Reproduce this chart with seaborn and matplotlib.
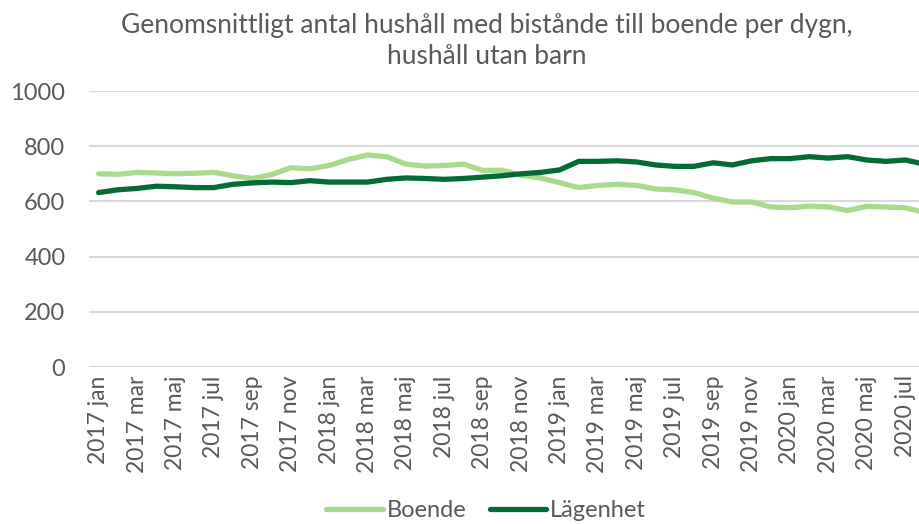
import matplotlib
matplotlib.use("Agg")
import matplotlib.pyplot as plt
from matplotlib.lines import Line2D
import seaborn as sns
import pandas as pd

years = [2017, 2018, 2019, 2020]
month_names = ["jan", "feb", "mar", "apr", "maj", "jun",
               "jul", "aug", "sep", "okt", "nov", "dec"]
months = [f"{y} {m}" for y in years for m in month_names][:44]

boende = [700, 698, 705, 703, 700, 702, 705, 693, 683, 697, 722, 718,
          730, 752, 768, 762, 735, 728, 730, 735, 712, 713, 695, 685,
          668, 650, 658, 662, 658, 645, 642, 632, 612, 598, 598, 580,
          577, 583, 580, 567, 582, 580, 577, 560]
lagenhet = [632, 642, 647, 655, 653, 650, 650, 662, 667, 670, 668, 675,
            670, 670, 670, 680, 685, 683, 680, 683, 688, 693, 700, 705,
            714, 745, 745, 747, 743, 732, 727, 727, 740, 732, 747, 755,
            755, 762, 757, 762, 750, 745, 750, 735]

series_names = ["Boende", "Lägenhet"]
palette = {"Boende": "#A9DA8D", "Lägenhet": "#036B34"}

df = pd.DataFrame({
    "idx": list(range(len(months))) * 2,
    "value": boende + lagenhet,
    "serie": [series_names[0]] * len(boende) + [series_names[1]] * len(lagenhet),
})

sns.set_theme(style="white")
plt.rcParams["font.family"] = ["Lato", "DejaVu Sans"]
text_color = "#595959"

fig = plt.figure(figsize=(9.19, 5.24), dpi=100)
ax = fig.add_axes([89 / 919, 1 - 367 / 524, 845 / 919, 276 / 524])

sns.lineplot(data=df, x="idx", y="value", hue="serie", palette=palette,
             linewidth=3.8, ax=ax, legend=False)
for line in ax.get_lines():
    line.set_solid_capstyle("round")
    line.set_solid_joinstyle("round")

ax.set_xlim(-0.5, len(months) - 0.5)
ax.set_ylim(0, 1000)
ax.set_yticks(range(0, 1001, 200))
ax.set_yticklabels([str(v) for v in range(0, 1001, 200)],
                   fontsize=17, color=text_color)
ax.set_xticks(range(0, len(months), 2))
ax.set_xticklabels(months[::2], rotation=90, fontsize=16.5, color=text_color)
ax.tick_params(axis="x", length=0, pad=6)
ax.tick_params(axis="y", length=0, pad=17)
ax.set_xlabel("")
ax.set_ylabel("")
ax.grid(axis="y", color="#D9D9D9", linewidth=1.5)
ax.set_axisbelow(True)
for s in ax.spines.values():
    s.set_visible(False)

fig.text(0.53, 0.975, "Genomsnittligt antal hushåll med bistånde till boende per dygn,\nhushåll utan barn",
         ha="center", va="top", fontsize=19, color=text_color, linespacing=1.3)

handles = [Line2D([], [], color=palette[n], linewidth=3.8, solid_capstyle="round")
           for n in series_names]
fig.legend(handles, series_names, loc="center", bbox_to_anchor=(486 / 919, 0.025),
           ncol=2, frameon=False, fontsize=17, handlelength=2.4,
           handletextpad=0.15, columnspacing=1.0, labelcolor=text_color)

fig.savefig("out.png", dpi=100)
